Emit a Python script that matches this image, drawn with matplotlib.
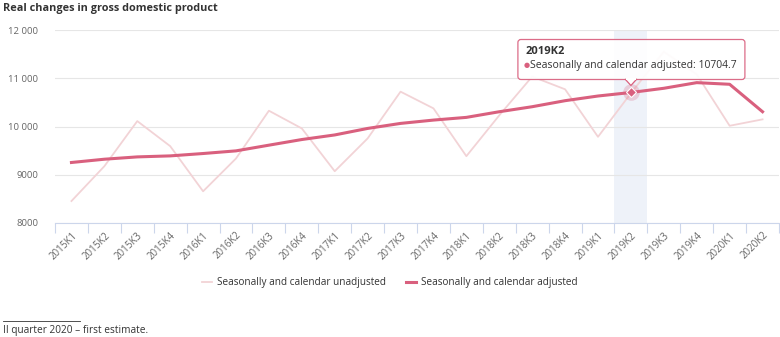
import numpy as np
import matplotlib
matplotlib.use("Agg")
import matplotlib.pyplot as plt
from matplotlib.patches import FancyBboxPatch, Polygon, Rectangle
from matplotlib.lines import Line2D
from matplotlib.ticker import FixedLocator, FuncFormatter

plt.rcParams["font.family"] = ["Open Sans", "DejaVu Sans"]

quarters = ["2015K1", "2015K2", "2015K3", "2015K4", "2016K1", "2016K2", "2016K3",
            "2016K4", "2017K1", "2017K2", "2017K3", "2017K4", "2018K1", "2018K2",
            "2018K3", "2018K4", "2019K1", "2019K2", "2019K3", "2019K4", "2020K1",
            "2020K2"]
unadjusted = [8455, 9177, 10112, 9593, 8657, 9337, 10327, 9960, 9073, 9753, 10722,
              10376, 9385, 10231, 11035, 10771, 9786, 10690, 11550, 11080, 10015,
              10148]
adjusted = [9254, 9322, 9370, 9391, 9440, 9495, 9613, 9730, 9825, 9960, 10064,
            10133, 10189, 10306, 10410, 10535, 10632, 10704.7, 10792, 10909, 10875,
            10306]
highlight = 17  # 2019K2, hovered point

c_adj = "#d9607e"
c_unadj = "#f2d3d6"
c_axis = "#ccd6eb"
c_grid = "#e6e6e6"
c_text = "#666666"

W, H = 780, 337
fig = plt.figure(figsize=(W / 100, H / 100), dpi=100)
ax = fig.add_axes([55 / W, 1 - 223 / H, (779 - 55) / W, (223 - 30) / H])

x = np.arange(len(quarters))
ax.axvspan(highlight - 0.5, highlight + 0.5, color="#eef2f9", zorder=0, lw=0)
ax.plot(x, unadjusted, color=c_unadj, lw=1.3, zorder=2,
        label="Seasonally and calendar unadjusted")
ax.plot(x, adjusted, color=c_adj, lw=2.2, zorder=3,
        label="Seasonally and calendar adjusted")
ax.plot(highlight, adjusted[highlight], "o", ms=12, color=c_adj, alpha=0.25,
        mec="none", zorder=4)
ax.plot(highlight, adjusted[highlight], "D", ms=5.5, color=c_adj, mec="white",
        mew=0.8, zorder=5)

ax.set_xlim(-0.5, len(quarters) - 0.5)
ax.set_ylim(8000, 12000)
ax.set_yticks([8000, 9000, 10000, 11000, 12000])
ax.yaxis.set_major_formatter(
    FuncFormatter(lambda v, p: f"{int(v):,}".replace(",", " ") if v >= 10000 else f"{int(v)}"))
ax.grid(axis="y", color=c_grid, lw=0.8)
ax.set_axisbelow(True)
ax.tick_params(axis="y", length=0, pad=12, labelsize=6.8, labelcolor=c_text)

ax.set_xticks(x)
ax.set_xticklabels(quarters, rotation=45, ha="right", rotation_mode="anchor")
ax.tick_params(axis="x", which="major", length=0, pad=5, labelsize=7,
               labelcolor=c_text)
ax.xaxis.set_minor_locator(FixedLocator(np.arange(-0.5, len(quarters), 1.0)))
ax.tick_params(axis="x", which="minor", length=7, color=c_axis, width=0.8)

for s in ["top", "right", "left"]:
    ax.spines[s].set_visible(False)
ax.spines["bottom"].set_color(c_axis)

# title
fig.text(3 / W, 1 - 8 / H, "Real changes in gross domestic product", fontsize=7.8,
         fontweight="bold", color="#333333", va="center", ha="left")

# legend
fig.legend(loc="center", bbox_to_anchor=(0.5, 1 - 283 / H), ncol=2, frameon=False,
           fontsize=7.2, handlelength=1.0, columnspacing=2.0, handletextpad=0.5,
           labelcolor="#333333")

# footnote
fig.add_artist(Line2D([3 / W, 80 / W], [1 - 321 / H, 1 - 321 / H], color="#333333",
                      lw=0.6, transform=fig.transFigure))
fig.text(3 / W, 1 - 331 / H, "II quarter 2020 – first estimate.", fontsize=7.3,
         color="#333333", va="center", ha="left")

# tooltip for hovered point
fig.canvas.draw()
px, py = ax.transData.transform((highlight, adjusted[highlight]))
bx0, bx1 = px - 113, px + 114
by0, by1 = py + 13, py + 53
box = FancyBboxPatch((bx0, by0), bx1 - bx0, by1 - by0,
                     boxstyle="round,pad=0,rounding_size=3", fc="white", ec=c_adj,
                     lw=0.9, alpha=0.92, transform=None, zorder=10)
fig.add_artist(box)
tip = Polygon([(px - 6, by0 + 0.6), (px, py + 7), (px + 6, by0 + 0.6)], closed=False,
              fc="white", ec=c_adj, lw=0.9, transform=None, zorder=11)
fig.add_artist(tip)
fig.add_artist(Rectangle((px - 5.2, by0 - 0.5), 10.4, 1.6, fc="white", ec="none",
                         transform=None, zorder=12))
inv = fig.transFigure.inverted()
tx, ty = inv.transform((bx0 + 8, by1 - 12))
fig.text(tx, ty, quarters[highlight], fontsize=8, fontweight="bold",
         color="#333333", va="center", ha="left", zorder=13)
tx, ty = inv.transform((bx0 + 6, by1 - 26))
fig.text(tx, ty, "●", fontsize=5, color=c_adj, va="center", ha="left", zorder=13,
         family=["DejaVu Sans"])
tx, ty = inv.transform((bx0 + 12, by1 - 26))
fig.text(tx, ty, f"Seasonally and calendar adjusted: {adjusted[highlight]}",
         fontsize=7.5, color="#333333", va="center", ha="left", zorder=13)

fig.savefig("out.png", dpi=100)
